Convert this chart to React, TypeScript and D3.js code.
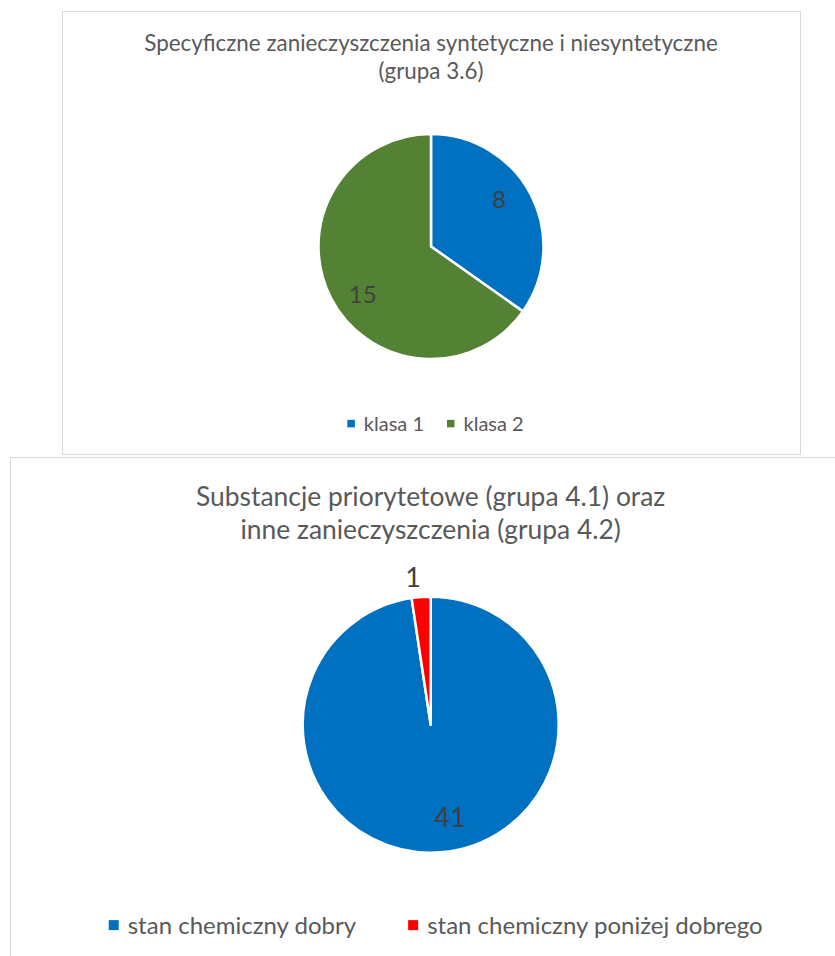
import { useRef, useEffect } from 'react';
import * as d3 from 'd3';

// chart 1
const topTitle = ['Specyficzne zanieczyszczenia syntetyczne i niesyntetyczne', '(grupa 3.6)'];
const topCategories = ['klasa 1', 'klasa 2'];
const topValues = [8, 15];
const topColors = ['#0070C0', '#548235'];

// chart 2
const bottomTitle = ['Substancje priorytetowe (grupa 4.1) oraz', 'inne zanieczyszczenia (grupa 4.2)'];
const bottomCategories = ['stan chemiczny dobry', 'stan chemiczny poniżej dobrego'];
const bottomValues = [41, 1];
const bottomColors = ['#0070C0', '#FF0000'];

const FONT = 'Lato, "Open Sans", sans-serif';

type PieOpts = {
  box: [number, number, number, number];
  cx: number;
  cy: number;
  radius: number;
  title: string[];
  titleSize: number;
  titleY: number;
  titleGap: number;
  categories: string[];
  values: number[];
  colors: string[];
  labelSize: number;
  legendY: number;
  legendSize: number;
  swatch: number;
  swatchGap: number;
  itemGap: number;
  legendShift: number;
};

const drawPie = (svg: d3.Selection<SVGSVGElement, unknown, null, undefined>, o: PieOpts) => {
  const g = svg.append('g').attr('font-family', FONT);

  // chart frame
  g.append('rect')
    .attr('x', o.box[0] + 0.5)
    .attr('y', o.box[1] + 0.5)
    .attr('width', o.box[2])
    .attr('height', o.box[3])
    .attr('fill', '#fff')
    .attr('stroke', '#d9d9d9');

  // title
  o.title.forEach((line, i) => {
    g.append('text')
      .attr('x', o.cx)
      .attr('y', o.titleY + i * o.titleGap)
      .attr('text-anchor', 'middle')
      .attr('font-size', o.titleSize)
      .attr('fill', '#595959')
      .text(line);
  });

  const pie = d3.pie<number>().sort(null).value((d) => d);
  const arcs = pie(o.values);
  const arc = d3.arc<d3.PieArcDatum<number>>().innerRadius(0).outerRadius(o.radius);

  const slices = g.append('g').attr('transform', `translate(${o.cx},${o.cy})`);
  slices
    .selectAll('path')
    .data(arcs)
    .join('path')
    .attr('d', arc)
    .attr('fill', (_, i) => o.colors[i])
    .attr('stroke', '#fff')
    .attr('stroke-width', 2.5)
    .attr('stroke-linejoin', 'round');

  // data labels: inside end, small slices outside
  const total = d3.sum(o.values);
  arcs.forEach((d) => {
    const outside = d.value / total < 0.05;
    const mid = (d.startAngle + d.endAngle) / 2 + (outside ? -0.044 : -0.13);
    const rr = o.radius * (outside ? 1.16 : 0.74);
    slices
      .append('text')
      .attr('x', Math.sin(mid) * rr)
      .attr('y', -Math.cos(mid) * rr)
      .attr('dy', '0.36em')
      .attr('text-anchor', 'middle')
      .attr('font-size', o.labelSize)
      .attr('fill', '#404040')
      .text(d.value);
  });

  // legend
  const legend = g.append('g');
  let x = 0;
  o.categories.forEach((c, i) => {
    const item = legend.append('g').attr('transform', `translate(${x},0)`);
    item
      .append('rect')
      .attr('y', -o.legendSize * 0.37 - o.swatch / 2)
      .attr('width', o.swatch)
      .attr('height', o.swatch)
      .attr('fill', o.colors[i]);
    const t = item
      .append('text')
      .attr('x', o.swatch + o.swatchGap)
      .attr('font-size', o.legendSize)
      .attr('fill', '#595959')
      .text(c);
    x += o.swatch + o.swatchGap + (t.node() as SVGTextElement).getComputedTextLength() + o.itemGap;
  });
  const legendWidth = x - o.itemGap;
  legend.attr('transform', `translate(${o.cx - legendWidth / 2 + o.legendShift},${o.legendY})`);
};

const App = () => {
  const svgRef = useRef<SVGSVGElement>(null);

  useEffect(() => {
    const svg = d3.select(svgRef.current as SVGSVGElement);
    svg.selectAll('*').remove();

    drawPie(svg, {
      box: [62, 11, 738, 443],
      cx: 431,
      cy: 246.5,
      radius: 112.5,
      title: topTitle,
      titleSize: 22.4,
      titleY: 51,
      titleGap: 27.5,
      categories: topCategories,
      values: topValues,
      colors: topColors,
      labelSize: 24,
      legendY: 431,
      legendSize: 20,
      swatch: 7.5,
      swatchGap: 9,
      itemGap: 23,
      legendShift: 4.5,
    });

    drawPie(svg, {
      box: [10, 457, 900, 600],
      cx: 430.7,
      cy: 724.7,
      radius: 128,
      title: bottomTitle,
      titleSize: 26.4,
      titleY: 506,
      titleGap: 32.5,
      categories: bottomCategories,
      values: bottomValues,
      colors: bottomColors,
      labelSize: 27,
      legendY: 934,
      legendSize: 24,
      swatch: 10,
      swatchGap: 9,
      itemGap: 52,
      legendShift: 5,
    });
  }, []);

  return (
    <svg
      ref={svgRef}
      width={835}
      height={956}
      style={{ position: 'absolute', left: 0, top: 0, background: '#fff' }}
    />
  );
};

export default App;
